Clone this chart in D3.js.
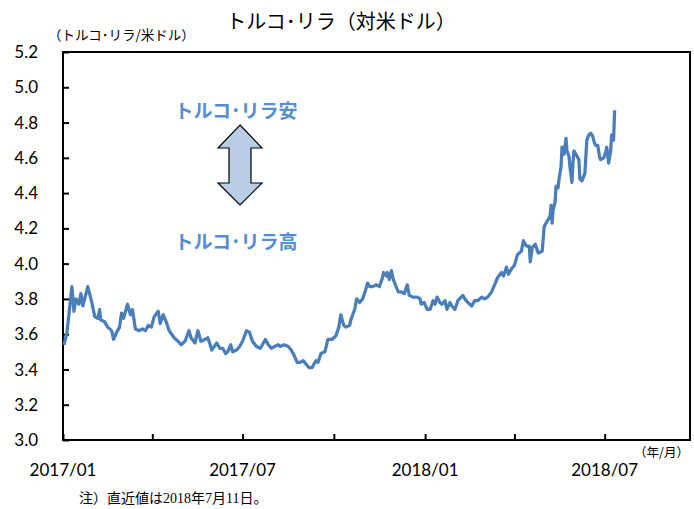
<!DOCTYPE html>
<html>
<head>
<meta charset="utf-8">
<script src="https://cdn.jsdelivr.net/npm/d3@7"></script>
<style>
  body { margin: 0; background: #fff; }
  svg { display: block; }
</style>
</head>
<body>
<div id="chart"></div>
<script>
/** Data (USD/TRY) */
const dates = [
  "2017-01-02","2017-01-05","2017-01-10","2017-01-12","2017-01-14","2017-01-17","2017-01-19","2017-01-21",
  "2017-01-26","2017-01-30","2017-02-02","2017-02-05","2017-02-07","2017-02-08","2017-02-12","2017-02-15",
  "2017-02-19","2017-02-21","2017-02-24","2017-02-27","2017-03-01","2017-03-03","2017-03-07","2017-03-10",
  "2017-03-12","2017-03-15","2017-03-19","2017-03-22","2017-03-25","2017-03-28","2017-03-31","2017-04-03",
  "2017-04-07","2017-04-09","2017-04-12","2017-04-15","2017-04-18","2017-04-23","2017-04-27","2017-04-30",
  "2017-05-04","2017-05-08","2017-05-10","2017-05-14","2017-05-17","2017-05-20","2017-05-24","2017-05-27",
  "2017-05-31","2017-06-05","2017-06-08","2017-06-11","2017-06-14","2017-06-16","2017-06-19","2017-06-21",
  "2017-06-25","2017-06-28","2017-07-01","2017-07-05","2017-07-08","2017-07-11","2017-07-15","2017-07-19",
  "2017-07-22","2017-07-24","2017-07-27","2017-07-30","2017-08-02","2017-08-06","2017-08-08","2017-08-12",
  "2017-08-16","2017-08-19","2017-08-22","2017-08-25","2017-08-28","2017-08-31","2017-09-03","2017-09-06",
  "2017-09-09","2017-09-13","2017-09-15","2017-09-18","2017-09-22","2017-09-25","2017-09-29","2017-10-03",
  "2017-10-06","2017-10-08","2017-10-11","2017-10-13","2017-10-17","2017-10-18","2017-10-22","2017-10-24",
  "2017-10-27","2017-10-30","2017-11-02","2017-11-04","2017-11-06","2017-11-09","2017-11-13","2017-11-16",
  "2017-11-19","2017-11-20","2017-11-23","2017-11-24","2017-11-26","2017-11-28","2017-11-30","2017-12-02",
  "2017-12-05","2017-12-08","2017-12-11","2017-12-14","2017-12-16","2017-12-20","2017-12-24","2017-12-27",
  "2017-12-28","2017-12-31","2018-01-03","2018-01-06","2018-01-09","2018-01-11","2018-01-13","2018-01-16",
  "2018-01-18","2018-01-21","2018-01-23","2018-01-26","2018-01-28","2018-01-31","2018-02-03","2018-02-08",
  "2018-02-10","2018-02-13","2018-02-17","2018-02-20","2018-02-23","2018-02-27","2018-03-02","2018-03-05",
  "2018-03-09","2018-03-12","2018-03-15","2018-03-19","2018-03-21","2018-03-24","2018-03-26","2018-03-29",
  "2018-04-01","2018-04-04","2018-04-08","2018-04-10","2018-04-13","2018-04-16","2018-04-17","2018-04-19",
  "2018-04-22","2018-04-25","2018-04-29","2018-05-01","2018-05-04","2018-05-07","2018-05-08","2018-05-09",
  "2018-05-10","2018-05-12","2018-05-13","2018-05-15","2018-05-16","2018-05-18","2018-05-19","2018-05-21",
  "2018-05-23","2018-05-24","2018-05-26","2018-05-27","2018-05-29","2018-05-30","2018-05-31","2018-06-03",
  "2018-06-05","2018-06-06","2018-06-08","2018-06-11","2018-06-13","2018-06-15","2018-06-17","2018-06-19",
  "2018-06-21","2018-06-22","2018-06-24","2018-06-26","2018-06-27","2018-06-30","2018-07-02","2018-07-03",
  "2018-07-05","2018-07-07","2018-07-08","2018-07-10","2018-07-11"
];
const values = [
  3.54,3.61,3.87,3.73,3.80,3.77,3.83,3.76,
  3.87,3.78,3.70,3.69,3.74,3.68,3.67,3.64,
  3.62,3.57,3.61,3.64,3.72,3.69,3.77,3.71,
  3.74,3.63,3.62,3.63,3.62,3.65,3.64,3.70,
  3.73,3.66,3.71,3.67,3.62,3.58,3.56,3.54,
  3.56,3.62,3.58,3.55,3.62,3.56,3.57,3.58,
  3.51,3.55,3.52,3.52,3.49,3.50,3.54,3.50,
  3.51,3.53,3.56,3.62,3.61,3.56,3.53,3.52,
  3.55,3.57,3.54,3.52,3.53,3.54,3.53,3.54,
  3.53,3.51,3.48,3.44,3.44,3.45,3.43,3.41,
  3.41,3.45,3.44,3.49,3.50,3.57,3.57,3.59,
  3.64,3.71,3.65,3.64,3.65,3.68,3.74,3.80,
  3.78,3.80,3.85,3.89,3.87,3.87,3.88,3.87,
  3.92,3.95,3.93,3.95,3.91,3.96,3.91,3.88,
  3.84,3.84,3.83,3.88,3.82,3.81,3.81,3.80,
  3.77,3.78,3.74,3.74,3.79,3.77,3.81,3.78,
  3.77,3.79,3.74,3.78,3.76,3.74,3.79,3.82,
  3.80,3.78,3.76,3.79,3.79,3.81,3.80,3.81,
  3.84,3.88,3.92,3.95,3.93,3.98,3.94,3.97,
  3.99,4.05,4.07,4.13,4.10,4.10,4.01,4.09,
  4.11,4.06,4.07,4.21,4.24,4.27,4.33,4.23,
  4.30,4.35,4.44,4.43,4.48,4.55,4.66,4.62,
  4.71,4.64,4.61,4.55,4.46,4.57,4.64,4.61,
  4.59,4.48,4.47,4.51,4.70,4.73,4.74,4.72,
  4.68,4.67,4.67,4.60,4.59,4.60,4.63,4.66,
  4.57,4.64,4.73,4.70,4.87
];
const yTicks = [3.0, 3.2, 3.4, 3.6, 3.8, 4.0, 4.2, 4.4, 4.6, 4.8, 5.0, 5.2];
const xTickDates = ["2017-01-01","2017-04-01","2017-07-01","2017-10-01","2018-01-01","2018-04-01","2018-07-01"];
const xLabelDates = ["2017-01-01","2017-07-01","2018-01-01","2018-07-01"];

const W = 694, H = 509;
const plot = { left: 63, right: 690, top: 52, bottom: 440 };
const jp = "'Noto Sans CJK JP', sans-serif";
const num = "Lato, 'Noto Sans', sans-serif";
const parse = d3.timeParse("%Y-%m-%d");

const data = dates.map((d, i) => ({ date: parse(d), value: values[i] }));

const svg = d3.select("#chart").append("svg")
  .attr("width", W).attr("height", H);

const x = d3.scaleTime()
  .domain([parse("2017-01-01"), parse("2018-09-25")])
  .range([plot.left, plot.right]);
const y = d3.scaleLinear()
  .domain([3.0, 5.2])
  .range([plot.bottom, plot.top]);

/** Title + unit labels */
svg.append("text")
  .attr("x", 341).attr("y", 29)
  .attr("text-anchor", "middle")
  .style("font-family", jp).style("font-size", "20px").style("font-weight", 400)
  .text("トルコ･リラ（対米ドル）");

svg.append("text")
  .attr("x", 48).attr("y", 40)
  .style("font-family", jp).style("font-size", "13.5px")
  .text("（トルコ･リラ/米ドル）");

svg.append("text")
  .attr("x", 634).attr("y", 457)
  .style("font-family", jp).style("font-size", "12.5px")
  .text("（年/月）");

svg.append("text")
  .attr("x", 79).attr("y", 503)
  .style("font-family", "'Liberation Serif', 'Noto Sans CJK JP', serif").style("font-size", "14px")
  .text("注）直近値は2018年7月11日。");

/** Y axis: ticks inside, labels on the left */
const yAxis = d3.axisRight(y).tickValues(yTicks).tickSize(6).tickFormat("");
svg.append("g")
  .attr("transform", `translate(${plot.left},0)`)
  .call(yAxis)
  .call(g => g.select(".domain").remove())
  .call(g => g.selectAll("line").attr("stroke", "#000").attr("stroke-width", 2));

svg.append("g").selectAll("text")
  .data(yTicks)
  .enter().append("text")
  .attr("x", 38)
  .attr("y", d => y(d))
  .attr("dy", "0.36em")
  .attr("text-anchor", "end")
  .style("font-family", num).style("font-size", "17px")
  .text(d => d3.format(".1f")(d));

/** X axis: ticks pointing up */
const xAxis = d3.axisTop(x).tickValues(xTickDates.map(parse)).tickSize(6).tickFormat("");
svg.append("g")
  .attr("transform", `translate(0,${plot.bottom})`)
  .call(xAxis)
  .call(g => g.select(".domain").remove())
  .call(g => g.selectAll("line").attr("stroke", "#000").attr("stroke-width", 2));

svg.append("g").selectAll("text")
  .data(xLabelDates.map(parse))
  .enter().append("text")
  .attr("x", d => x(d))
  .attr("y", 476)
  .attr("text-anchor", "middle")
  .style("font-family", num).style("font-size", "17px")
  .text(d => d3.timeFormat("%Y/%m")(d));

/** Plot frame */
svg.append("rect")
  .attr("x", plot.left).attr("y", plot.top)
  .attr("width", plot.right - plot.left)
  .attr("height", plot.bottom - plot.top)
  .attr("fill", "none").attr("stroke", "#000").attr("stroke-width", 2);

/** Line */
const line = d3.line()
  .x(d => x(d.date))
  .y(d => y(d.value));

svg.append("path")
  .datum(data)
  .attr("fill", "none")
  .attr("stroke", "#4a7ebb")
  .attr("stroke-width", 3.25)
  .attr("stroke-linejoin", "round")
  .attr("d", line);

/** Annotation: double arrow and labels */
const ax = 240;
svg.append("path")
  .attr("d", `M${ax},125 L${ax + 22},148 L${ax + 11},148 L${ax + 11},183 L${ax + 22},183 L${ax},205 L${ax - 22},183 L${ax - 11},183 L${ax - 11},148 L${ax - 22},148 Z`)
  .attr("fill", "#b9cde5")
  .attr("stroke", "#000")
  .attr("stroke-width", 1.2);

svg.append("text")
  .attr("x", 236).attr("y", 118)
  .attr("text-anchor", "middle")
  .style("font-family", jp).style("font-size", "19px").style("font-weight", 700)
  .attr("fill", "#558ed5")
  .text("トルコ･リラ安");

svg.append("text")
  .attr("x", 236).attr("y", 249)
  .attr("text-anchor", "middle")
  .style("font-family", jp).style("font-size", "19px").style("font-weight", 700)
  .attr("fill", "#558ed5")
  .text("トルコ･リラ高");
</script>
</body>
</html>
